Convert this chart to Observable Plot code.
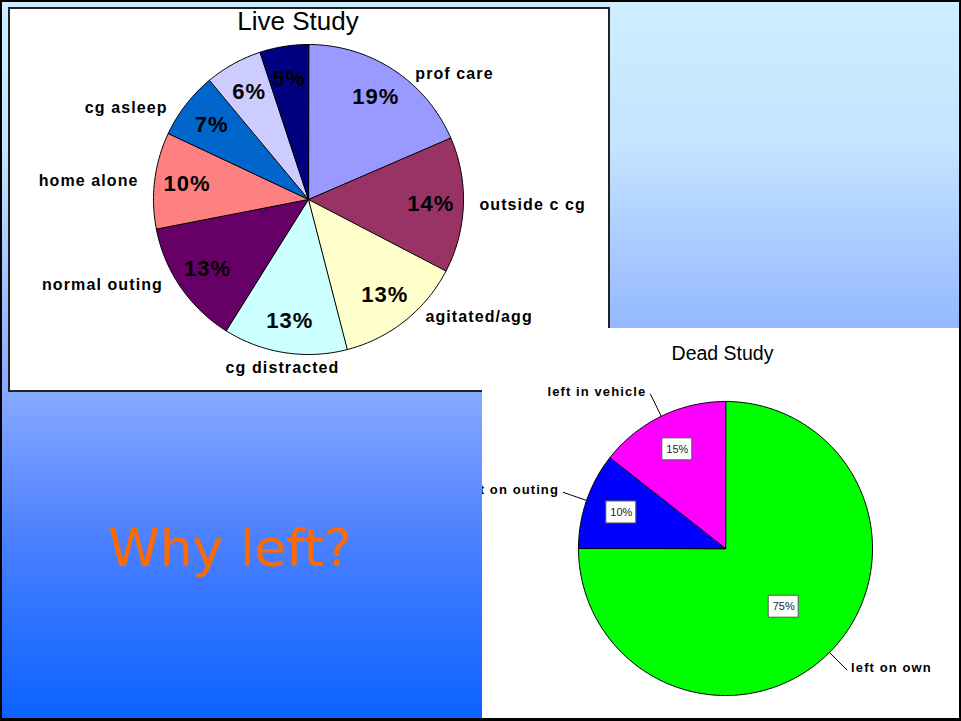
<!DOCTYPE html>
<html>
<head>
<meta charset="utf-8">
<script src="https://cdn.jsdelivr.net/npm/d3@7"></script>
<script src="https://cdn.jsdelivr.net/npm/@observablehq/plot@0.6"></script>
<style>
html,body{margin:0;padding:0;background:#fff;}
body{width:961px;height:721px;overflow:hidden;position:relative;}
#slide{position:absolute;left:0;top:0;width:961px;height:721px;
  background:linear-gradient(to bottom,#ceeeff 0%,#c4e4ff 20%,#95b8ff 45.5%,#86a8ff 54.5%,#4a80ff 75%,#0a62ff 100%);}
#live{position:absolute;left:8px;top:7px;width:602px;height:385px;box-sizing:border-box;background:#fff;border:2px solid #222;overflow:hidden;}
#dead{position:absolute;left:482px;top:328px;width:477px;height:390px;background:#fff;overflow:hidden;}
#liveTitle{position:absolute;left:10px;top:6px;width:576px;text-align:center;font-family:'Liberation Sans',Arial,sans-serif;font-size:26px;line-height:30px;color:#000;}
#deadTitle{position:absolute;left:484px;top:341px;width:477px;text-align:center;font-family:'Liberation Sans',Arial,sans-serif;font-size:19.5px;line-height:24px;color:#000;}
#why{position:absolute;left:0;top:518px;width:460px;text-align:center;font-family:'DejaVu Sans',sans-serif;font-size:52px;line-height:60px;color:#ff6a00;}
#frame{position:absolute;left:0;top:0;width:961px;height:721px;box-sizing:border-box;border:2px solid #000;border-bottom-width:3px;pointer-events:none;}
</style>
</head>
<body>
<div id="slide"></div>
<div id="live"></div>
<div id="liveTitle">Live Study</div>
<div id="dead"></div>
<div id="deadTitle">Dead Study</div>
<div id="why">Why left?</div>
<div id="frame"></div>
<script>
// ---- data ----
const liveCategories = ["prof care","outside c cg","agitated/agg","cg distracted","normal outing","home alone","cg asleep","",""];
const liveValues = [18.6,14.2,13.4,13.0,13.1,10.1,7.0,6.0,5.1];
const liveLabels = ["19%","14%","13%","13%","13%","10%","7%","6%","5%"];
const liveColors = ["#9999ff","#993366","#ffffcc","#ccffff","#660066","#ff8080","#0066cc","#ccccff","#000080"];

const deadCategories = ["left on own","left on outing","left in vehicle"];
const deadValues = [75, 10.6, 14.4];
const deadLabels = ["75%","10%","15%"];
const deadColors = ["#00ff00","#0000ff","#ff00ff"];

// ---- geometry helpers ----
function pieGeometry(values){
  const arcs = d3.pie().sort(null)(values);
  const pts = [];
  arcs.forEach((a,i)=>{
    pts.push({k:i,x:0,y:0});
    const n = Math.max(2, Math.ceil((a.endAngle-a.startAngle)*180/Math.PI));
    for(let j=0;j<=n;j++){
      const t = a.startAngle+(a.endAngle-a.startAngle)*j/n;
      pts.push({k:i,x:Math.sin(t),y:Math.cos(t)});
    }
  });
  const mids = arcs.map((a,i)=>({i, mid:(a.startAngle+a.endAngle)/2, share:(a.endAngle-a.startAngle)/(2*Math.PI)}));
  return {pts, mids};
}
function spacing(chart, spacings){
  // letter-spacing per text mark group, in mark order
  chart.querySelectorAll('g[aria-label="text"]').forEach((g,i)=>{
    if (spacings[i] != null) g.setAttribute("letter-spacing", spacings[i]);
  });
}
const FONT = "'Liberation Sans', Arial, sans-serif";

// ---- Live Study ----
{
  const W=598, H=381, cx=298, cy=190, R=155, gap=16/R;
  const g = pieGeometry(liveValues);
  const pct = g.mids.map(m=>({x:0.79*Math.sin(m.mid), y:0.79*Math.cos(m.mid), t:liveLabels[m.i]}));
  const outer = g.mids.filter(m=>liveCategories[m.i]).map(m=>{
    const s=Math.sin(m.mid), c=Math.cos(m.mid);
    if (Math.abs(s) < 0.3) return {x:1.1*s, y:1.1*c, t:liveCategories[m.i], anchor:"middle"};
    const y = 0.97*c;
    const x = Math.sign(s)*(Math.sqrt(1-y*y)+gap);
    return {x, y, t:liveCategories[m.i], anchor: s>0?"start":"end"};
  });
  const chart = Plot.plot({
    width:W, height:H, margin:0,
    x:{domain:[-cx/R,(W-cx)/R], axis:null},
    y:{domain:[-(H-cy)/R, cy/R], axis:null},
    color:{type:"ordinal", domain:d3.range(liveValues.length), range:liveColors},
    style:{background:"transparent", fontFamily:FONT, overflow:"hidden"},
    marks:[
      Plot.line(g.pts,{x:"x",y:"y",z:"k",fill:"k",stroke:"#000",strokeWidth:1,curve:"linear-closed",strokeLinejoin:"miter"}),
      Plot.text(pct,{x:"x",y:"y",text:"t",fontSize:22,fontWeight:"bold",fill:"#000"}),
      ...["start","end","middle"].map(an=>Plot.text(outer.filter(d=>d.anchor===an),{x:"x",y:"y",text:"t",textAnchor:an,fontSize:16,fontWeight:"bold",fill:"#000"}))
    ]
  });
  spacing(chart, ["1px","1.1px","1.1px","1.1px"]);
  document.getElementById("live").appendChild(chart);
}

// ---- Dead Study ----
{
  const W=477, H=390, cx=243, cy=220, R=147;
  const g = pieGeometry(deadValues);
  const boxes = g.mids.map(m=>{
    const r = m.share>0.5?0.56:0.75;
    return {x:r*Math.sin(m.mid), y:r*Math.cos(m.mid), t:deadLabels[m.i]};
  });
  const hw=15/R, hh=11/R;
  const leads = g.mids.map(m=>{
    const s=Math.sin(m.mid), c=Math.cos(m.mid);
    return {x1:s, y1:c, x2:1.17*s, y2:1.17*c, t:deadCategories[m.i], anchor: s>0?"start":"end"};
  });
  const chart = Plot.plot({
    width:W, height:H, margin:0,
    x:{domain:[-cx/R,(W-cx)/R], axis:null},
    y:{domain:[-(H-cy)/R, cy/R], axis:null},
    color:{type:"ordinal", domain:d3.range(deadValues.length), range:deadColors},
    style:{background:"transparent", fontFamily:FONT, overflow:"hidden"},
    marks:[
      Plot.line(g.pts,{x:"x",y:"y",z:"k",fill:"k",stroke:"#000",strokeWidth:1,curve:"linear-closed",strokeLinejoin:"miter"}),
      Plot.link(leads,{x1:"x1",y1:"y1",x2:"x2",y2:"y2",stroke:"#000",strokeWidth:1}),
      Plot.text(leads.filter(d=>d.anchor==="start"),{x:"x2",y:"y2",text:"t",textAnchor:"start",dx:4,dy:-2,fontSize:13,fontWeight:"bold",fill:"#000"}),
      Plot.text(leads.filter(d=>d.anchor==="end"),{x:"x2",y:"y2",text:"t",textAnchor:"end",dx:-4,dy:-2,fontSize:13,fontWeight:"bold",fill:"#000"}),
      Plot.rect(boxes,{x1:d=>d.x-hw,x2:d=>d.x+hw,y1:d=>d.y-hh,y2:d=>d.y+hh,fill:"#fff",stroke:"#555",strokeWidth:1}),
      Plot.text(boxes,{x:"x",y:"y",text:"t",fontSize:11,fill:"#222"})
    ]
  });
  spacing(chart, ["1.1px","1.1px"]);
  document.getElementById("dead").appendChild(chart);
}
</script>
</body>
</html>
